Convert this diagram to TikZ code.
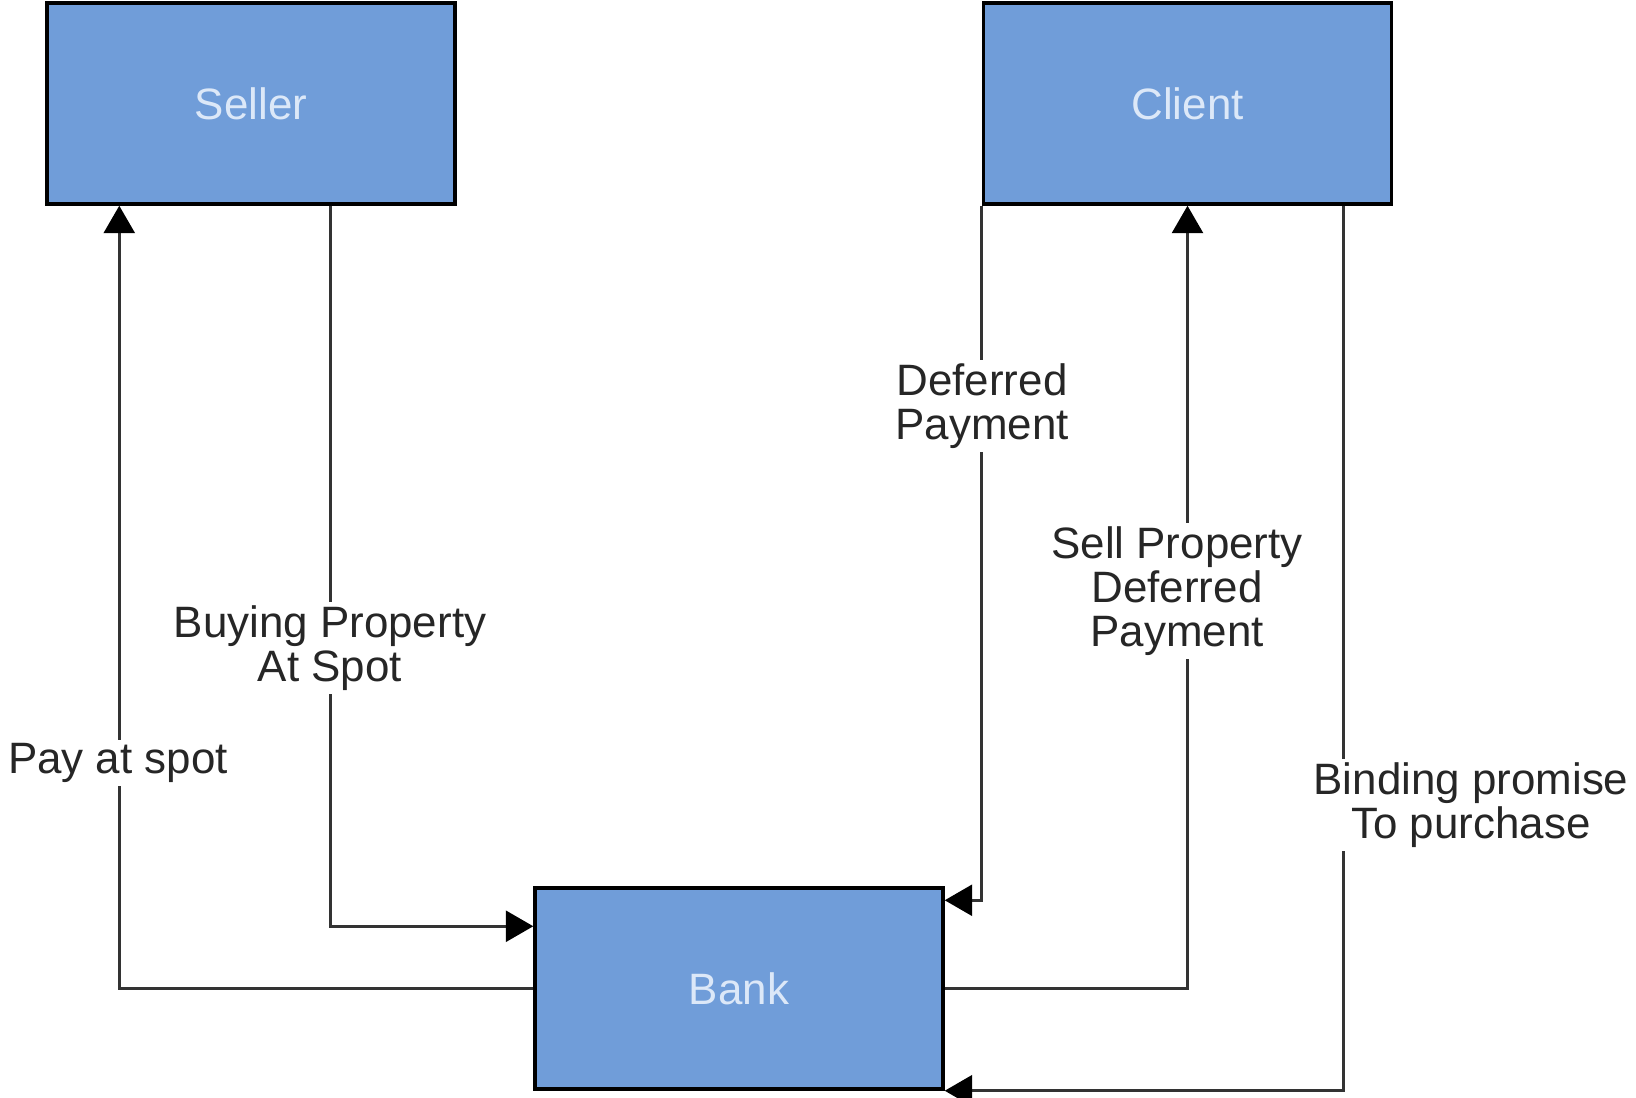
\documentclass[tikz,border=0pt]{standalone}
\usepackage{fontspec}
\setmainfont{Liberation Sans}
\usetikzlibrary{arrows.meta}
\definecolor{boxfill}{HTML}{709DD9}
\definecolor{boxtext}{HTML}{DCE8F8}
\definecolor{linecol}{HTML}{333333}
\tikzset{
  party/.style={draw=black, line width=2pt, fill=boxfill, minimum width=8.16cm, minimum height=4.02cm, inner sep=0pt, text=boxtext, font=\fontsize{25}{25}\selectfont, text depth=0pt},
  conn/.style={draw=linecol, line width=1.7pt, -{Triangle[length=0.55cm,width=0.62cm,color=black]}},
  lbl/.style={fill=white, inner sep=2pt, align=center, text=black!85, font=\fontsize{25}{25}\selectfont}
}
\begin{document}
\begin{tikzpicture}[x=0.02cm, y=-0.02cm]
\useasboundingbox (0,0) rectangle (1636,1098);
\node[party] (seller) at (251,103.5) {Seller};
\node[party] (client) at (1187.5,103.5) {Client};
\node[party] (bank) at (739,988.5) {Bank};
% connectors
\draw[conn] (bank.west) -| ([xshift=1.48cm]seller.south west);
\draw[conn] ([xshift=5.7cm]seller.south west) |- ([yshift=-0.8cm]bank.north west);
\draw[conn] (client.south west) |- ([yshift=-0.28cm]bank.north east);
\draw[conn] (bank.east) -| (client.south);
\draw[conn] ([xshift=-1cm]client.south east) |- (bank.south east);
% labels
\node[lbl] (lpay) at (118,763) {Pay at spot};
\node[lbl] (lbuy) at (330,648) {Buying Property\\At Spot};
\node[lbl] (ldef) at (982,406) {Deferred\\Payment};
\node[lbl] (lsell) at (1177,591) {Sell Property\\Deferred\\Payment};
\node[lbl] (lbind) at (1471,805) {Binding promise\\To purchase};
\end{tikzpicture}
\end{document}
